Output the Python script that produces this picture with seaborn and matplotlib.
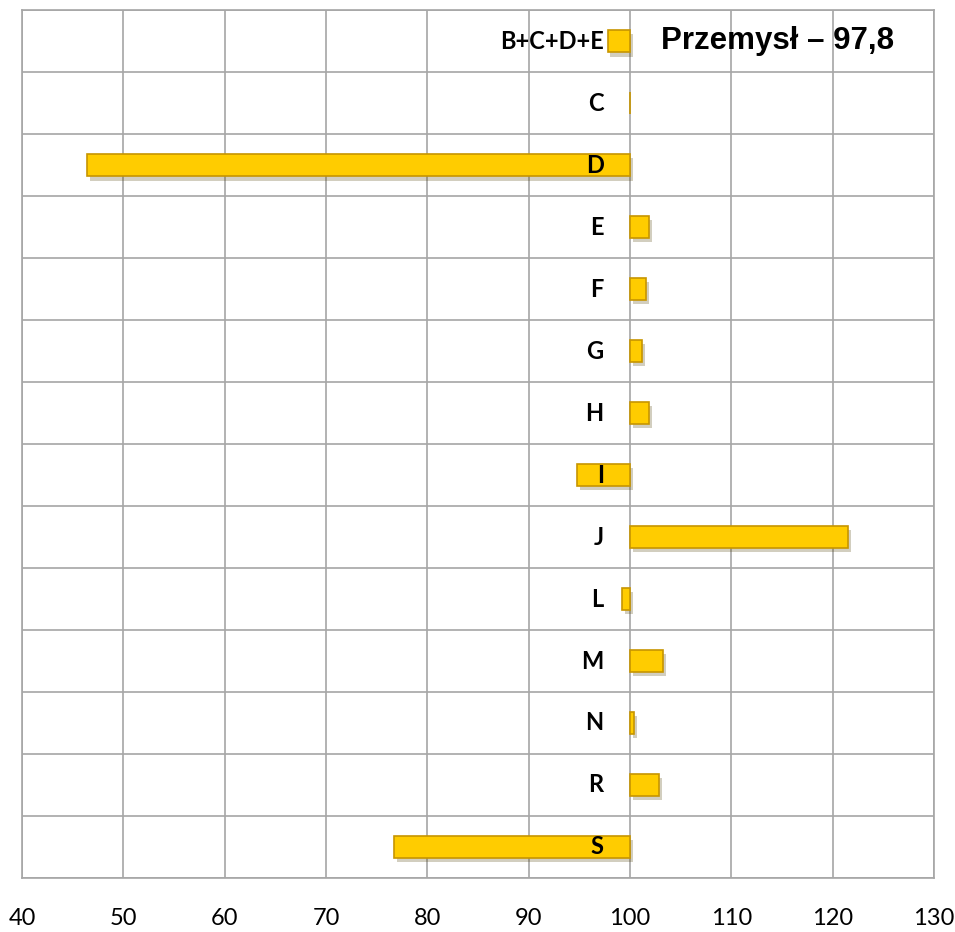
import matplotlib
matplotlib.use("Agg")
import matplotlib.pyplot as plt
import matplotlib.patheffects as pe
import pandas as pd
import seaborn as sns

# dane: indeksy dla sekcji (rok poprzedni = 100)
sekcje = ['B+C+D+E', 'C', 'D', 'E', 'F', 'G', 'H', 'I', 'J', 'L', 'M', 'N', 'R', 'S']
wartosci = [97.8, 100.0, 46.4, 101.9, 101.6, 101.2, 101.9, 94.8, 121.5, 99.2, 103.3, 100.4, 102.9, 76.7]
xticks = [40, 50, 60, 70, 80, 90, 100, 110, 120, 130]
tytul = 'Przemysł – 97,8'

df = pd.DataFrame({'sekcja': sekcje, 'wartosc': wartosci})
df['roznica'] = df['wartosc'] - 100

sns.set_style('white')
plt.rcParams['text.color'] = 'black'
plt.rcParams['xtick.color'] = 'black'
fig = plt.figure(figsize=(9.55, 9.32), dpi=100)
ax = fig.add_axes([0.023, 0.058, 0.955, 0.931])

sns.barplot(data=df, y='sekcja', x='roznica', orient='h', left=100,
            color='#FFCC00', saturation=1, width=0.36, edgecolor='#C79500',
            linewidth=1.2, ax=ax)
for p in ax.patches:
    p.set_path_effects([pe.SimplePatchShadow(offset=(2, -3), alpha=0.25), pe.Normal()])

ax.set_xlim(40, 130)
ax.set_ylim(13.5, -0.5)
ax.set_xticks(xticks)
ax.set_xticklabels([str(t) for t in xticks], family=['Lato', 'DejaVu Sans'],
                   fontsize=17, color='black')
ax.set_yticks([i - 0.5 for i in range(len(sekcje) + 1)], minor=True)
ax.set_yticks([])
ax.grid(True, which='major', axis='x', color='#a6a6a6', linewidth=1.2)
ax.grid(True, which='minor', axis='y', color='#a6a6a6', linewidth=1.2)
ax.set_axisbelow(True)
ax.tick_params(axis='x', length=8, width=1.2, color='#a6a6a6', pad=14)
ax.tick_params(axis='y', which='both', length=0)
for s in ax.spines.values():
    s.set_color('#a6a6a6')
    s.set_linewidth(1.2)
ax.set_xlabel('')
ax.set_ylabel('')

for i, s in enumerate(sekcje):
    ax.text(97.4, i, s, ha='right', va='center', fontsize=17, fontweight='bold',
            family=['Lato', 'DejaVu Sans'], color='black')

ax.text(114.6, 0, tytul, ha='center', va='center', fontsize=22.5, fontweight='bold',
        family=['Liberation Sans', 'DejaVu Sans'], color='black')

fig.savefig('out.png', dpi=100)
